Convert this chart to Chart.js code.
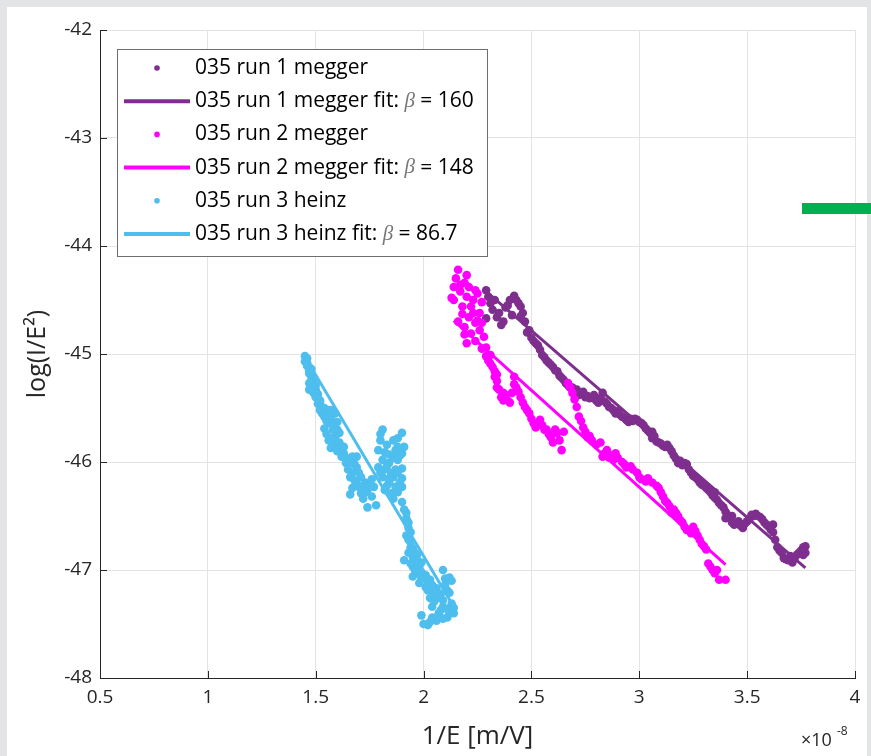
<!DOCTYPE html>
<html>
<head>
<meta charset="utf-8">
<script src="https://cdn.jsdelivr.net/npm/chart.js@4.4.1/dist/chart.umd.min.js"></script>
<style>
  html, body { margin: 0; padding: 0; }
  body { width: 871px; height: 756px; overflow: hidden; background: #e3e4e6; position: relative; }
  #panel { position: absolute; left: 7px; top: 7px; width: 860px; height: 749px; background: #ffffff; }
  #wrap { position: absolute; left: 0; top: 0; width: 871px; height: 756px; }
  #tag { position: absolute; left: 802px; top: 203px; width: 69px; height: 11px; background: #00b050; }
</style>
</head>
<body>
<div id="panel"></div>
<div id="wrap"><canvas id="c" width="871" height="756"></canvas></div>
<div id="tag"></div>
<script>
// x values are 1/E in units of 1e-8 m/V ; y values are log(I/E^2)
const run1 = [
  [2.29,-44.41],[2.31,-44.53],[2.29,-44.67],[2.32,-44.59],[2.34,-44.66],[2.37,-44.70],[2.38,-44.57],
  [2.40,-44.50],[2.42,-44.46],[2.43,-44.50],[2.45,-44.56],[2.45,-44.65],[2.47,-44.70],[2.48,-44.80],
  [2.50,-44.85],[2.52,-44.90],[2.54,-44.96],[2.55,-45.01],[2.57,-45.06],[2.58,-45.08],[2.60,-45.12],
  [2.62,-45.16],[2.63,-45.20],[2.64,-45.22],[2.66,-45.27],[2.68,-45.31],[2.69,-45.31],[2.71,-45.33],
  [2.72,-45.38],[2.74,-45.35],[2.76,-45.39],[2.77,-45.41],[2.78,-45.40],[2.80,-45.43],[2.82,-45.41],
  [2.83,-45.36],[2.84,-45.44],[2.86,-45.49],[2.88,-45.52],[2.89,-45.55],[2.91,-45.56],[2.93,-45.59],
  [2.94,-45.61],[2.96,-45.60],[2.97,-45.62],[2.99,-45.61],[3.00,-45.63],[3.02,-45.66],[3.03,-45.69],
  [3.05,-45.73],[3.06,-45.78],[3.08,-45.81],[3.10,-45.83],[3.11,-45.85],[3.13,-45.84],[3.14,-45.87],
  [3.16,-45.94],[3.18,-46.01],[3.19,-45.99],[3.21,-46.01],[3.22,-46.02],[3.23,-46.07],[3.25,-46.13],
  [3.27,-46.16],[3.28,-46.19],[3.30,-46.22],[3.31,-46.24],[3.33,-46.28],[3.34,-46.31],[3.36,-46.35],
  [3.37,-46.38],[3.39,-46.42],[3.40,-46.46],[3.42,-46.52],[3.43,-46.56],[3.45,-46.57],[3.47,-46.59],
  [3.48,-46.61],[3.49,-46.57],[3.51,-46.53],[3.53,-46.50],[3.54,-46.48],[3.56,-46.51],[3.57,-46.53],
  [3.59,-46.58],[3.60,-46.60],[3.62,-46.65],[3.63,-46.72],[3.64,-46.79],[3.66,-46.84],[3.67,-46.89],
  [3.69,-46.91],[3.71,-46.93],[3.72,-46.89],[3.74,-46.84],[3.76,-46.79],[3.77,-46.84],[3.77,-46.78],
  [2.33,-44.50],[2.41,-44.64],[2.36,-44.73],
  [2.30,-44.47],[2.35,-44.62],[2.39,-44.55],[2.44,-44.53],[2.46,-44.62],[2.49,-44.78],[2.51,-44.88],
  [2.53,-44.92],[2.56,-45.03],[2.59,-45.10],[2.61,-45.15],[2.65,-45.24],[2.67,-45.29],[2.70,-45.35],
  [2.73,-45.36],[2.75,-45.40],[2.79,-45.38],[2.81,-45.45],[2.85,-45.46],[2.87,-45.50],[2.90,-45.53],
  [2.92,-45.58],[2.95,-45.63],[2.98,-45.60],[3.01,-45.64],[3.04,-45.71],[3.07,-45.76],[3.09,-45.82],
  [3.12,-45.86],[3.15,-45.90],[3.17,-45.97],[3.20,-46.03],[3.24,-46.10],[3.26,-46.14],[3.29,-46.21],
  [3.32,-46.26],[3.35,-46.33],[3.38,-46.40],[3.41,-46.49],[3.44,-46.58],[3.46,-46.55],[3.50,-46.55],
  [3.52,-46.49],[3.55,-46.50],[3.58,-46.56],[3.61,-46.63],[3.65,-46.82],[3.68,-46.90],[3.70,-46.87],
  [3.73,-46.86],[3.75,-46.82],[3.76,-46.86],[3.43,-46.50],[3.40,-46.52],[3.06,-45.72],[3.62,-46.58],
  [3.35,-46.28]
];
const run2 = [
  [2.16,-44.22],[2.20,-44.27],[2.14,-44.38],[2.19,-44.34],[2.13,-44.48],[2.14,-44.50],[2.20,-44.47],
  [2.18,-44.56],[2.22,-44.56],[2.25,-44.44],[2.27,-44.52],[2.26,-44.62],[2.16,-44.70],[2.19,-44.75],
  [2.24,-44.71],[2.27,-44.71],[2.28,-44.84],[2.20,-44.90],[2.22,-44.81],[2.29,-44.94],[2.30,-45.06],
  [2.32,-45.12],[2.33,-45.21],[2.34,-45.31],[2.35,-45.33],[2.37,-45.36],[2.37,-45.43],[2.39,-45.43],
  [2.41,-45.36],[2.42,-45.21],[2.43,-45.31],[2.45,-45.40],[2.47,-45.49],[2.49,-45.55],[2.51,-45.64],
  [2.52,-45.68],[2.54,-45.61],[2.56,-45.70],[2.57,-45.70],[2.59,-45.77],[2.62,-45.73],[2.63,-45.80],
  [2.64,-45.89],[2.65,-45.72],[2.68,-45.31],[2.69,-45.36],[2.71,-45.49],[2.72,-45.58],[2.74,-45.68],
  [2.76,-45.77],[2.78,-45.80],[2.82,-45.82],[2.83,-45.95],[2.85,-45.89],[2.86,-45.96],[2.89,-45.92],
  [2.92,-46.00],[2.94,-46.05],[2.97,-46.07],[3.00,-46.14],[3.03,-46.18],[3.06,-46.19],[3.09,-46.24],
  [3.11,-46.32],[3.14,-46.41],[3.15,-46.47],[3.17,-46.47],[3.19,-46.54],[3.20,-46.56],[3.22,-46.63],
  [3.23,-46.63],[3.25,-46.60],[3.28,-46.72],[3.31,-46.81],[3.32,-46.94],[3.34,-47.00],[3.36,-47.00],
  [3.37,-47.09],[3.40,-47.09],
  [2.17,-44.36],[2.24,-44.41],[2.25,-44.69],[2.31,-45.01],[2.34,-45.19],
  [2.15,-44.30],[2.17,-44.42],[2.21,-44.38],[2.23,-44.50],[2.18,-44.63],[2.21,-44.66],[2.23,-44.62],
  [2.26,-44.78],[2.19,-44.82],[2.24,-44.88],[2.27,-44.95],[2.29,-45.02],[2.31,-45.09],[2.33,-45.16],
  [2.34,-45.25],[2.36,-45.40],[2.38,-45.38],[2.40,-45.45],[2.42,-45.28],[2.44,-45.35],[2.46,-45.45],
  [2.48,-45.52],[2.50,-45.60],[2.53,-45.65],[2.55,-45.66],[2.58,-45.74],[2.60,-45.82],[2.61,-45.70],
  [2.67,-45.27],[2.70,-45.42],[2.73,-45.62],[2.75,-45.72],[2.77,-45.76],[2.80,-45.84],[2.84,-45.92],
  [2.87,-45.94],[2.88,-45.98],[2.90,-45.96],[2.93,-46.02],[2.96,-46.04],[2.99,-46.10],[3.01,-46.16],
  [3.04,-46.15],[3.08,-46.22],[3.10,-46.28],[3.12,-46.36],[3.13,-46.38],[3.16,-46.44],[3.18,-46.50],
  [3.21,-46.60],[3.24,-46.66],[3.26,-46.64],[3.27,-46.68],[3.29,-46.76],[3.30,-46.78],[3.33,-46.97],
  [3.35,-47.03]
];
const run3 = [
  [1.46,-45.04],[1.45,-45.07],[1.46,-45.08],[1.47,-45.12],[1.47,-45.15],[1.48,-45.19],[1.48,-45.21],
  [1.49,-45.24],[1.47,-45.27],[1.49,-45.31],[1.50,-45.33],[1.47,-45.33],[1.51,-45.37],[1.51,-45.40],
  [1.52,-45.43],[1.52,-45.45],[1.53,-45.50],[1.53,-45.55],[1.54,-45.58],[1.57,-45.52],[1.59,-45.55],
  [1.56,-45.64],[1.60,-45.63],[1.54,-45.69],[1.58,-45.70],[1.56,-45.80],[1.59,-45.77],[1.61,-45.73],
  [1.57,-45.87],[1.63,-45.86],[1.63,-45.92],[1.62,-45.95],[1.67,-45.95],[1.69,-45.95],[1.64,-46.01],
  [1.65,-46.07],[1.67,-46.10],[1.69,-46.05],[1.68,-46.17],[1.71,-46.14],[1.67,-46.24],[1.73,-46.19],
  [1.74,-46.26],[1.71,-46.29],[1.77,-46.23],[1.76,-46.32],[1.74,-46.42],[1.78,-46.40],[1.70,-46.23],
  [1.81,-45.70],[1.80,-45.80],[1.79,-45.89],[1.82,-45.91],[1.86,-45.80],[1.88,-45.78],[1.90,-45.73],
  [1.87,-45.89],[1.90,-45.92],[1.91,-45.86],[1.81,-45.98],[1.84,-46.01],[1.88,-45.98],[1.79,-46.05],
  [1.82,-46.07],[1.87,-46.07],[1.90,-46.06],[1.81,-46.14],[1.86,-46.14],[1.90,-46.15],[1.84,-46.19],
  [1.87,-46.23],[1.90,-46.23],[1.82,-46.26],[1.85,-46.29],[1.90,-46.37],[1.91,-46.44],[1.92,-46.52],
  [1.93,-46.61],[1.92,-46.68],[1.93,-46.72],[1.94,-46.79],[1.93,-46.84],[1.95,-46.88],[1.96,-46.84],
  [1.97,-46.91],[1.95,-46.97],[1.98,-46.97],[1.97,-47.03],[1.95,-47.06],[2.00,-47.05],[1.98,-47.12],
  [2.03,-47.09],[2.01,-47.16],[2.09,-47.00],[2.12,-47.07],[2.02,-47.19],[2.06,-47.17],[2.11,-47.19],
  [2.03,-47.26],[2.07,-47.25],[2.12,-47.21],[2.04,-47.34],[2.09,-47.34],[2.13,-47.31],[2.07,-47.40],
  [2.12,-47.40],[2.14,-47.40],[1.99,-47.42],[2.02,-47.51],[2.06,-47.47],[2.11,-47.44],[1.91,-46.91],
  [1.94,-46.94],
  [1.45,-45.02],[1.46,-45.11],[1.47,-45.18],[1.48,-45.14],[1.48,-45.28],[1.49,-45.36],[1.50,-45.29],
  [1.50,-45.40],[1.51,-45.46],[1.52,-45.52],[1.54,-45.50],[1.55,-45.55],[1.56,-45.52],[1.55,-45.62],
  [1.57,-45.60],[1.58,-45.65],[1.55,-45.74],[1.57,-45.78],[1.60,-45.70],[1.59,-45.84],[1.61,-45.82],
  [1.62,-45.88],[1.60,-45.90],[1.64,-45.96],[1.66,-46.00],[1.68,-46.02],[1.66,-46.14],[1.70,-46.10],
  [1.69,-46.20],[1.72,-46.22],[1.73,-46.28],[1.75,-46.22],[1.76,-46.16],[1.72,-46.34],[1.66,-46.30],
  [1.80,-45.74],[1.83,-45.84],[1.84,-45.93],[1.86,-45.96],[1.88,-45.86],[1.89,-45.94],[1.83,-46.04],
  [1.85,-46.10],[1.88,-46.10],[1.80,-46.10],[1.84,-46.15],[1.89,-46.19],[1.83,-46.22],[1.88,-46.28],
  [1.86,-46.34],
  [1.92,-46.47],[1.93,-46.56],[1.94,-46.65],[1.94,-46.74],[1.95,-46.80],[1.97,-46.86],[1.99,-46.93],
  [1.96,-47.00],[1.99,-47.02],[2.01,-47.05],[2.02,-47.12],[1.99,-47.08],[2.04,-47.14],[2.05,-47.21],
  [2.08,-47.22],[2.09,-47.28],[2.10,-47.14],[2.13,-47.10],[2.05,-47.29],[2.08,-47.37],[2.11,-47.36],
  [2.13,-47.36],[2.03,-47.48],[2.04,-47.44],[2.09,-47.45],[2.00,-47.50],[2.14,-47.35],[2.10,-47.08]
];
const fit1 = [[2.29,-44.42],[3.77,-46.98]];
const fit2 = [[2.14,-44.69],[3.40,-46.95]];
const fit3 = [[1.46,-45.06],[2.14,-47.34]];

const seriesLabels = ['035 run 1 megger','035 run 1 megger fit: β = 160','035 run 2 megger','035 run 2 megger fit: β = 148','035 run 3 heinz','035 run 3 heinz fit: β = 86.7'];
const seriesColors = ['#7e2f8e','#7e2f8e','#ff00ff','#ff00ff','#4dbeee','#4dbeee'];
const xTicks = [0.5,1,1.5,2,2.5,3,3.5,4];
const yTicks = [-48,-47,-46,-45,-44,-43,-42];
const xTitle = '1/E [m/V]';
const yTitle = 'log(I/E²)';

const toPts = a => a.map(p => ({x:p[0], y:p[1]}));
const seriesData = [run1, fit1, run2, fit2, run3, fit3];

const datasets = seriesData.map((d,i) => {
  const isFit = i % 2 === 1;
  return {
    label: seriesLabels[i],
    data: toPts(d),
    showLine: isFit,
    borderColor: seriesColors[i],
    backgroundColor: seriesColors[i],
    borderWidth: isFit ? 3 : 0,
    pointRadius: isFit ? 0 : 4.3,
    pointHoverRadius: 0,
    pointBorderWidth: 0,
    order: 10 - i,
    isFit: isFit
  };
});

const AX = '#262626';
const FONT = '"Open Sans", sans-serif';

const decorPlugin = {
  id: 'decor',
  afterDatasetsDraw(chart) {
    const ctx = chart.ctx, ca = chart.chartArea;
    const xs = chart.scales.x, ys = chart.scales.y;
    ctx.save();
    // inward ticks
    ctx.strokeStyle = AX; ctx.lineWidth = 1;
    ctx.beginPath();
    xTicks.forEach(v => { const px = Math.round(xs.getPixelForValue(v)) + 0.5; ctx.moveTo(px, ca.bottom); ctx.lineTo(px, ca.bottom - 7); });
    yTicks.forEach(v => { const py = Math.round(ys.getPixelForValue(v)) + 0.5; ctx.moveTo(ca.left, py); ctx.lineTo(ca.left + 7, py); });
    ctx.stroke();

    // legend
    const lx = ca.left + 17, ly = ca.top + 19, lw = 370, lh = 207;
    ctx.fillStyle = '#ffffff';
    ctx.fillRect(lx, ly, lw, lh);
    ctx.strokeStyle = '#6e6e6e'; ctx.lineWidth = 1;
    ctx.strokeRect(lx + 0.5, ly + 0.5, lw, lh);
    const rowH = 33.2;
    chart.data.datasets.forEach((ds, i) => {
      const cy = ly + 19 + i * rowH;
      if (ds.isFit) {
        ctx.strokeStyle = ds.borderColor; ctx.lineWidth = 4;
        ctx.beginPath(); ctx.moveTo(lx + 7, cy); ctx.lineTo(lx + 73, cy); ctx.stroke();
      } else {
        ctx.fillStyle = ds.backgroundColor;
        ctx.beginPath(); ctx.arc(lx + 40, cy, 2.8, 0, Math.PI * 2); ctx.fill();
      }
      const parts = ds.label.split('β');
      let tx = lx + 78;
      ctx.textBaseline = 'middle'; ctx.textAlign = 'left';
      ctx.fillStyle = '#000000';
      ctx.font = '21px ' + FONT;
      ctx.fillText(parts[0], tx, cy);
      if (parts.length > 1) {
        tx += ctx.measureText(parts[0]).width;
        ctx.font = 'italic 21px "Liberation Serif", serif';
        ctx.fillStyle = '#777777';
        ctx.fillText('β', tx, cy);
        tx += ctx.measureText('β').width;
        ctx.font = '21px ' + FONT;
        ctx.fillStyle = '#000000';
        ctx.fillText(parts[1], tx, cy);
      }
    });

    // axis titles
    ctx.fillStyle = AX;
    ctx.font = '26px ' + FONT;
    ctx.textAlign = 'center'; ctx.textBaseline = 'alphabetic';
    ctx.fillText(xTitle, (ca.left + ca.right) / 2, ca.bottom + 66);
    ctx.font = '25px ' + FONT;
    ctx.save();
    ctx.translate(ca.left - 62, (ca.top + ca.bottom) / 2);
    ctx.rotate(-Math.PI / 2);
    ctx.textBaseline = 'middle';
    ctx.fillText(yTitle, 0, 0);
    ctx.restore();

    // exponent label
    ctx.font = '18px ' + FONT;
    ctx.textAlign = 'left'; ctx.textBaseline = 'alphabetic';
    ctx.fillText('×10', ca.right - 54, ca.bottom + 68);
    ctx.font = '12px ' + FONT;
    ctx.fillText('-8', ca.right - 18, ca.bottom + 57);
    ctx.restore();
  }
};

new Chart(document.getElementById('c'), {
  type: 'scatter',
  data: { datasets },
  options: {
    responsive: false,
    animation: false,
    devicePixelRatio: 1,
    layout: { padding: { top: 30, right: 16, left: 0, bottom: 0 } },
    plugins: { legend: { display: false }, tooltip: { enabled: false } },
    scales: {
      x: {
        type: 'linear', min: 0.5, max: 4,
        afterBuildTicks: s => { s.ticks = xTicks.map(v => ({ value: v })); },
        afterFit: s => { s.height = 78; },
        grid: { color: '#e3e3e3', drawTicks: false, lineWidth: 1 },
        border: { display: true, color: AX, width: 1 },
        ticks: { color: AX, font: { family: FONT, size: 19 }, padding: 8, maxRotation: 0,
          callback: v => String(v) }
      },
      y: {
        type: 'linear', min: -48, max: -42,
        afterBuildTicks: s => { s.ticks = yTicks.map(v => ({ value: v })); },
        afterFit: s => { s.width = 100; },
        grid: { color: '#e3e3e3', drawTicks: false, lineWidth: 1 },
        border: { display: true, color: AX, width: 1 },
        ticks: { color: AX, font: { family: FONT, size: 19 }, padding: 8,
          callback: v => String(v) }
      }
    }
  },
  plugins: [decorPlugin]
});
</script>
</body>
</html>
